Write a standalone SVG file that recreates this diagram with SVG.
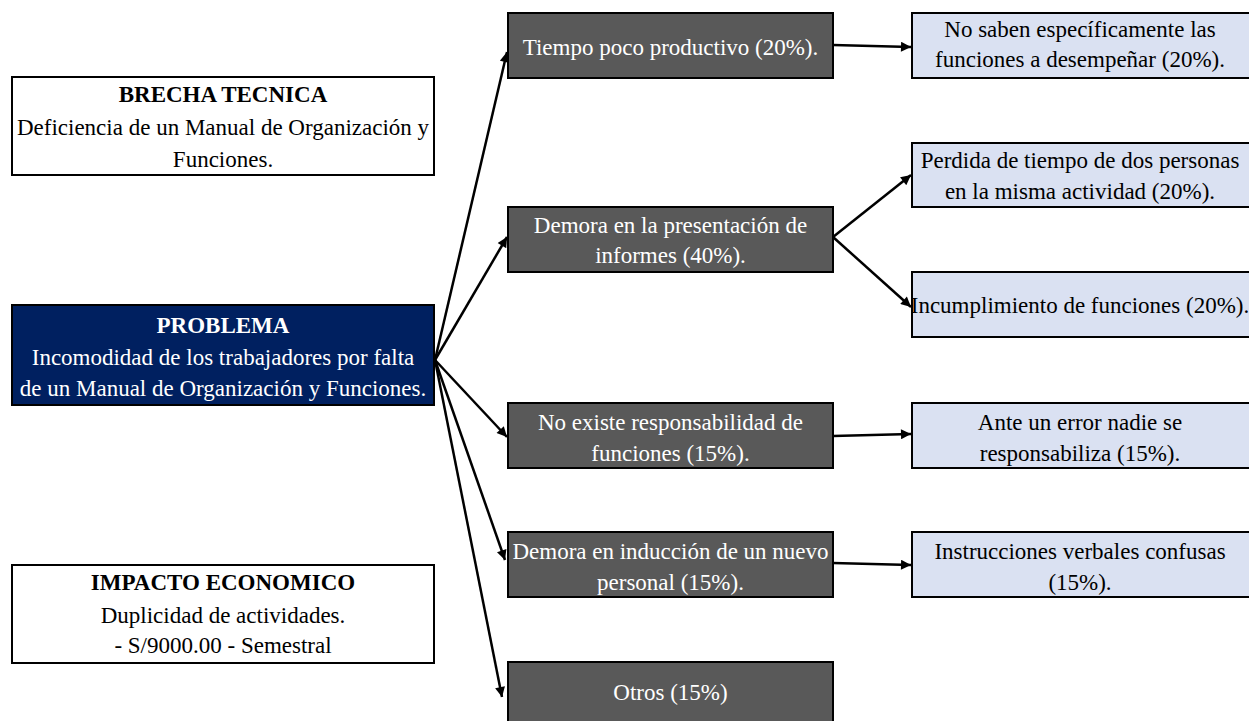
<svg xmlns="http://www.w3.org/2000/svg" width="1249" height="721" viewBox="0 0 1249 721">
<defs>
<marker id="ah" viewBox="0 0 10 10" refX="10" refY="5" markerWidth="13" markerHeight="10" markerUnits="userSpaceOnUse" orient="auto">
<path d="M0,0 L10,5 L0,10 z" fill="#000"/>
</marker>
<style>
text{font-family:"Liberation Serif","DejaVu Serif",serif;font-size:23px;font-weight:400;text-anchor:middle}
.b{font-weight:700}
.w{fill:#fff}
.k{fill:#000}
.white{fill:#fff;stroke:#000;stroke-width:2}
.navy{fill:#002060;stroke:#000;stroke-width:2}
.dark{fill:#595959;stroke:#000;stroke-width:2}
.light{fill:#dae1f2;stroke:#000;stroke-width:2}
.c{stroke:#000;stroke-width:2.5;fill:none;marker-end:url(#ah)}
</style>
</defs>
<rect width="1249" height="721" fill="#fff"/>
<g id="connectors">
<line class="c" x1="435" y1="360" x2="507" y2="52"/>
<line class="c" x1="435" y1="360" x2="507" y2="237"/>
<line class="c" x1="435" y1="360" x2="507" y2="437"/>
<line class="c" x1="435" y1="360" x2="505" y2="560"/>
<line class="c" x1="435" y1="360" x2="502" y2="697"/>
<line class="c" x1="833" y1="45" x2="911" y2="47"/>
<line class="c" x1="833" y1="237" x2="911" y2="175"/>
<line class="c" x1="833" y1="237" x2="911" y2="307"/>
<line class="c" x1="833" y1="436" x2="911" y2="434"/>
<line class="c" x1="833" y1="563" x2="911" y2="565"/>
</g>
<g id="brecha">
<rect class="white" x="12" y="77" width="422" height="98"/>
<text class="b k" x="223" y="102">BRECHA TECNICA</text>
<text class="k" x="223" y="135">Deficiencia de un Manual de Organización y</text>
<text class="k" x="223" y="167">Funciones.</text>
</g>
<g id="problema">
<rect class="navy" x="12" y="305" width="422" height="100"/>
<text class="b w" x="223" y="333">PROBLEMA</text>
<text class="w" x="223" y="365">Incomodidad de los trabajadores por falta</text>
<text class="w" x="223" y="396">de un Manual de Organización y Funciones.</text>
</g>
<g id="impacto">
<rect class="white" x="12" y="565" width="422" height="98"/>
<text class="b k" x="223" y="590">IMPACTO ECONOMICO</text>
<text class="k" x="223" y="623">Duplicidad de actividades.</text>
<text class="k" x="223" y="653">- S/9000.00 - Semestral</text>
</g>
<g id="tiempo">
<rect class="dark" x="508" y="13" width="325" height="65"/>
<text class="w" x="670.5" y="55">Tiempo poco productivo (20%).</text>
</g>
<g id="demora-informes">
<rect class="dark" x="508" y="207" width="325" height="65"/>
<text class="w" x="670.5" y="233">Demora en la presentación de</text>
<text class="w" x="670.5" y="263">informes (40%).</text>
</g>
<g id="no-existe">
<rect class="dark" x="508" y="403" width="325" height="65"/>
<text class="w" x="670.5" y="430">No existe responsabilidad de</text>
<text class="w" x="670.5" y="461">funciones (15%).</text>
</g>
<g id="demora-induccion">
<rect class="dark" x="508" y="532" width="325" height="65"/>
<text class="w" x="670.5" y="559">Demora en inducción de un nuevo</text>
<text class="w" x="670.5" y="590">personal (15%).</text>
</g>
<g id="otros">
<rect class="dark" x="508" y="662" width="325" height="65"/>
<text class="w" x="670.5" y="700">Otros (15%)</text>
</g>
<g id="no-saben">
<rect class="light" x="912" y="13" width="342" height="65"/>
<text class="k" x="1080" y="37">No saben específicamente las</text>
<text class="k" x="1080" y="67">funciones a desempeñar (20%).</text>
</g>
<g id="perdida">
<rect class="light" x="912" y="143" width="342" height="64"/>
<text class="k" x="1080" y="168">Perdida de tiempo de dos personas</text>
<text class="k" x="1080" y="199">en la misma actividad (20%).</text>
</g>
<g id="incumplimiento">
<rect class="light" x="912" y="272" width="342" height="65"/>
<text class="k" x="1080" y="313">Incumplimiento de funciones (20%).</text>
</g>
<g id="ante">
<rect class="light" x="912" y="403" width="342" height="65"/>
<text class="k" x="1080" y="430">Ante un error nadie se</text>
<text class="k" x="1080" y="461">responsabiliza (15%).</text>
</g>
<g id="instrucciones">
<rect class="light" x="912" y="532" width="342" height="65"/>
<text class="k" x="1080" y="559">Instrucciones verbales confusas</text>
<text class="k" x="1080" y="590">(15%).</text>
</g>
</svg>
